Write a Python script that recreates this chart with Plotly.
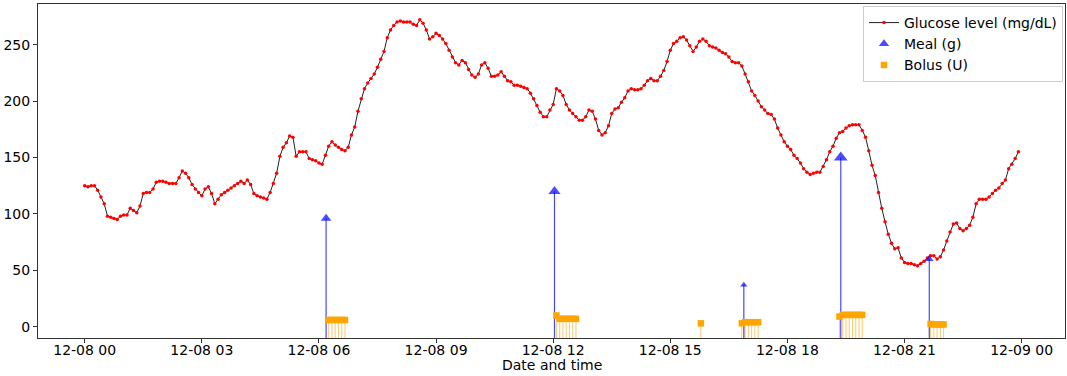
import pandas as pd
import plotly.graph_objects as go

# ---------------- data ----------------
START = "2023-12-08 00:00"
glucose = [
    125, 124, 125, 125, 121, 115, 109, 98, 97, 96, 95, 98,            # 00h
    99, 99, 105, 103, 101, 107, 118, 119, 119, 122, 128, 129,         # 01h
    129, 128, 127, 127, 127, 132, 138, 136, 132, 126, 122, 119,       # 02h
    116, 122, 124, 118, 109, 113, 117, 119, 121, 123, 125, 127,       # 03h
    129, 127, 130, 126, 118, 116, 115, 114, 113, 119, 127, 136,       # 04h
    151, 159, 163, 169, 168, 151, 155, 155, 155, 149, 148, 147,       # 05h
    145, 144, 152, 160, 164, 161, 159, 157, 156, 159, 170, 177,       # 06h
    191, 202, 211, 216, 220, 224, 230, 237, 244, 256, 263, 267,       # 07h
    270, 271, 270, 270, 270, 268, 267, 272, 269, 263, 255, 257,       # 08h
    260, 258, 255, 251, 245, 239, 234, 232, 236, 234, 228, 223,       # 09h
    221, 224, 232, 234, 229, 222, 222, 223, 226, 222, 218, 217,       # 10h
    214, 214, 213, 212, 211, 207, 202, 196, 190, 186, 186, 192,       # 11h
    197, 211, 209, 205, 197, 192, 189, 186, 183, 183, 186, 192,       # 12h
    191, 184, 174, 170, 172, 178, 189, 193, 194, 199, 203, 209,       # 13h
    211, 210, 210, 211, 214, 218, 220, 218, 218, 222, 227, 235,       # 14h
    245, 251, 253, 256, 257, 254, 249, 244, 248, 253, 255, 253,       # 15h
    249, 248, 247, 245, 243, 242, 239, 235, 234, 234, 231, 224,       # 16h
    217, 209, 205, 200, 195, 192, 189, 188, 184, 176, 170, 164,       # 17h
    160, 157, 152, 149, 145, 140, 137, 135, 136, 137, 137, 142,       # 18h
    148, 155, 160, 167, 172, 173, 176, 178, 179, 179, 179, 174,       # 19h
    168, 156, 143, 134, 119, 105, 93, 82, 74, 69, 70, 61,             # 20h
    57, 56, 56, 55, 54, 56, 58, 61, 63, 63, 60, 62,                   # 21h
    68, 76, 84, 91, 92, 87, 85, 87, 90, 97, 109, 113,                 # 22h
    113, 113, 115, 118, 121, 123, 127, 130, 140, 144, 149, 155,       # 23h
]

meal_times = ["2023-12-08 06:11", "2023-12-08 12:02", "2023-12-08 16:53",
              "2023-12-08 19:22", "2023-12-08 21:38"]
meal_grams = [96, 120, 37, 150, 60]

bolus_times = [
    "2023-12-08 06:15", "2023-12-08 06:20", "2023-12-08 06:25",
    "2023-12-08 06:30", "2023-12-08 06:35", "2023-12-08 06:40",
    "2023-12-08 12:05", "2023-12-08 12:10", "2023-12-08 12:15",
    "2023-12-08 12:20", "2023-12-08 12:25", "2023-12-08 12:30",
    "2023-12-08 12:35",
    "2023-12-08 15:47",
    "2023-12-08 16:50", "2023-12-08 16:55", "2023-12-08 17:00",
    "2023-12-08 17:05", "2023-12-08 17:10", "2023-12-08 17:15",
    "2023-12-08 19:20", "2023-12-08 19:25", "2023-12-08 19:30",
    "2023-12-08 19:35", "2023-12-08 19:40", "2023-12-08 19:45",
    "2023-12-08 19:50", "2023-12-08 19:55",
    "2023-12-08 21:40", "2023-12-08 21:45", "2023-12-08 21:50",
    "2023-12-08 21:55", "2023-12-08 22:00",
]
bolus_units = [
    6, 6, 6, 6, 6, 6,
    10, 7, 7, 7, 7, 7, 7,
    3,
    3, 4, 4, 4, 4, 4,
    9, 10.5, 10.5, 10.5, 10.5, 10.5, 10.5, 10.5,
    2.5, 2, 2, 2, 2,
]

y_ticks = [0, 50, 100, 150, 200, 250]

# ---------------- figure ----------------
times = pd.date_range(START, periods=len(glucose), freq="5min")
meal_t = pd.to_datetime(meal_times)
bolus_t = pd.to_datetime(bolus_times)
STEM_BASE = -10

def stems(ts, vals):
    xs, ys = [], []
    for t, v in zip(ts, vals):
        xs += [t, t, None]
        ys += [STEM_BASE, v, None]
    return xs, ys

fig = go.Figure()

bx, by = stems(bolus_t, bolus_units)
fig.add_trace(go.Scatter(x=bx, y=by, mode="lines", showlegend=False, hoverinfo="skip",
                         line=dict(color="rgba(255,165,0,0.6)", width=1)))

mx, my = stems(meal_t, meal_grams)
fig.add_trace(go.Scatter(x=mx, y=my, mode="lines", showlegend=False, hoverinfo="skip",
                         line=dict(color="rgba(0,0,255,0.72)", width=1.2)))

fig.add_trace(go.Scatter(x=times, y=glucose, mode="lines+markers",
                         name="Glucose level (mg/dL)", legendrank=1,
                         line=dict(color="#222222", width=1),
                         marker=dict(color="red", size=3.5, line=dict(width=0))))

fig.add_trace(go.Scatter(x=meal_t, y=meal_grams, mode="markers", name="Meal (g)",
                         legendrank=2,
                         marker=dict(symbol="triangle-up", color="blue",
                                     size=[4.5 + g / 20 for g in meal_grams],
                                     line=dict(width=0))))

fig.add_trace(go.Scatter(x=bolus_t, y=bolus_units, mode="markers", name="Bolus (U)",
                         legendrank=3,
                         marker=dict(symbol="square", color="orange", size=6.5,
                                     line=dict(width=0))))

x0 = pd.Timestamp(START)
fig.update_layout(
    width=1067, height=376,
    margin=dict(l=38, r=2, t=4, b=38, autoexpand=False),
    paper_bgcolor="white", plot_bgcolor="white",
    font=dict(family="DejaVu Sans", size=14, color="black"),
    legend=dict(x=1 - 2 / 1027, y=1 - 2 / 334, xanchor="right", yanchor="top",
                bgcolor="white", bordercolor="#cccccc", borderwidth=1,
                font=dict(size=14), tracegroupgap=0, itemwidth=30),
    xaxis=dict(
        range=[x0 - pd.Timedelta(hours=1.196), x0 + pd.Timedelta(hours=25.11)],
        tickformat="%m-%d %H", dtick=3 * 3600 * 1000, tick0=START,
        showgrid=False, zeroline=False,
        showline=True, linecolor="#333333", linewidth=1, mirror=True,
        ticks="outside", ticklen=4, tickcolor="#333333",
        ticklabelstandoff=-5,
    ),
    yaxis=dict(
        range=[-10, 286], tickvals=y_ticks,
        showgrid=False, zeroline=False,
        showline=True, linecolor="#333333", linewidth=1, mirror=True,
        ticks="outside", ticklen=4, tickcolor="#333333",
    ),
    annotations=[dict(text="Date and time", xref="paper", yref="paper",
                      x=0.5, y=0, xanchor="center", yanchor="middle",
                      yshift=-27, showarrow=False, font=dict(size=14))],
)

fig.write_html("out.html", config={"displayModeBar": False},
               post_script="document.body.style.margin='0';")
